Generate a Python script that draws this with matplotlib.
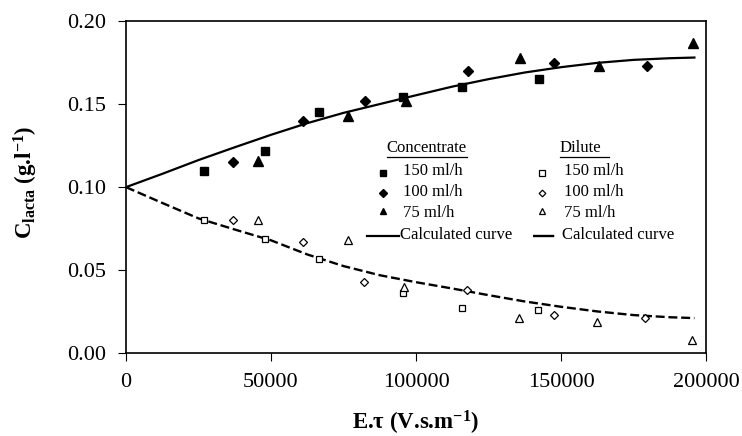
import matplotlib
matplotlib.use("Agg")
import matplotlib.pyplot as plt
from matplotlib.lines import Line2D

plt.rcParams['font.family'] = ['Liberation Serif', 'DejaVu Serif']
plt.rcParams['mathtext.fontset'] = 'custom'
plt.rcParams['mathtext.rm'] = 'Liberation Serif:bold'
plt.rcParams['mathtext.it'] = 'Liberation Serif:italic'
plt.rcParams['mathtext.bf'] = 'Liberation Serif:bold'

# ---------------- data ----------------
# Concentrate compartment
conc150_x = [27000, 48000, 66500, 95500, 116000, 142500]
conc150_y = [0.110, 0.122, 0.145, 0.154, 0.160, 0.165]
conc100_x = [37000, 61000, 82500, 118000, 147500, 179500]
conc100_y = [0.115, 0.140, 0.152, 0.170, 0.175, 0.173]
conc75_x = [45500, 76500, 96500, 136000, 163000, 195500]
conc75_y = [0.116, 0.143, 0.152, 0.178, 0.173, 0.187]

# Dilute compartment
dil150_x = [27000, 48000, 66500, 95500, 116000, 142000]
dil150_y = [0.080, 0.069, 0.057, 0.036, 0.027, 0.026]
dil100_x = [37000, 61000, 82000, 117500, 147500, 179000]
dil100_y = [0.080, 0.067, 0.043, 0.038, 0.023, 0.021]
dil75_x = [45500, 76500, 96000, 135500, 162500, 195000]
dil75_y = [0.080, 0.068, 0.040, 0.021, 0.019, 0.008]

# Calculated curves
curve_x = [0, 12500, 25000, 37500, 50000, 62500, 75000, 87500, 100000,
           112500, 125000, 137500, 150000, 162500, 175000, 187500, 196000]
conc_curve_y = [0.1000, 0.1080, 0.1163, 0.1240, 0.1315, 0.1385, 0.1447, 0.1500,
                0.1553, 0.1605, 0.1650, 0.1690, 0.1722, 0.1748, 0.1766, 0.1776, 0.1780]
dil_curve_y = [0.1000, 0.0905, 0.0812, 0.0745, 0.0680, 0.0595, 0.0525, 0.0470,
               0.0428, 0.0390, 0.0350, 0.0312, 0.0280, 0.0252, 0.0230, 0.0217, 0.0212]

x_ticks = [0, 50000, 100000, 150000, 200000]
y_ticks = [0.00, 0.05, 0.10, 0.15, 0.20]
x_ticklabels = ['0', '50000', '100000', '150000', '200000']
y_ticklabels = ['0.00', '0.05', '0.10', '0.15', '0.20']

W, H = 742, 436
fig = plt.figure(figsize=(W / 100, H / 100), dpi=100)
ax = fig.add_axes([126 / W, 1 - 353.3 / H, (706 - 126) / W, (353.3 - 21) / H])

ax.plot(curve_x, conc_curve_y, color='black', lw=1.6)
ax.plot(curve_x, dil_curve_y, color='black', lw=1.7, dashes=(3.8, 1.6))

mk = dict(linestyle='none', color='black')
ax.plot(conc150_x, conc150_y, marker='s', ms=5.5, **mk)
ax.plot(conc100_x, conc100_y, marker='D', ms=4.8, **mk)
ax.plot(conc75_x, conc75_y, marker='^', ms=6.5, **mk)
ax.plot(dil150_x, dil150_y, marker='s', ms=5.0, mfc='white', mec='black', mew=0.9, **mk)
ax.plot(dil100_x, dil100_y, marker='D', ms=4.2, mfc='white', mec='black', mew=0.9, **mk)
ax.plot(dil75_x, dil75_y, marker='^', ms=5.8, mfc='white', mec='black', mew=0.9, **mk)

ax.set_xlim(0, 200000)
ax.set_ylim(0, 0.20)
ax.set_xticks(x_ticks)
ax.set_xticklabels(x_ticklabels)
ax.set_yticks(y_ticks)
ax.set_yticklabels(y_ticklabels)
ax.tick_params(direction='out', length=6, width=0.8, labelsize=16, pad=8)
for s in ax.spines.values():
    s.set_linewidth(1.2)

ax.set_ylabel(r'C$_{\mathrm{lacta}}$ (g.l$^{\mathrm{-1}}$)', fontsize=16.5, fontweight='bold')
ax.yaxis.set_label_coords(-0.148, 0.5155)
ax.set_xlabel(r'E.τ (V.s.m$^{\mathrm{-1}}$)', fontsize=16.5, fontweight='bold')
ax.xaxis.set_label_coords(0.5, -0.168)

# ---------------- custom legend ----------------
def fx(px):
    return px / W

def fy(py):
    return 1 - py / H

tf = fig.transFigure
lfs = 12
fig.text(fx(386.5), fy(151.7), 'Concentrate', fontsize=lfs, va='baseline', ha='left')
fig.add_artist(Line2D([fx(386.5), fx(466.5)], [fy(157.3)] * 2, color='black', lw=0.9, transform=tf))
fig.text(fx(560), fy(151.7), 'Dilute', fontsize=lfs, va='baseline', ha='left')
fig.add_artist(Line2D([fx(560), fx(609.3)], [fy(157.3)] * 2, color='black', lw=0.9, transform=tf))

rows = [('150 ml/h', 's', 175.0, 172.7, 4.2, 4.0),
        ('100 ml/h', 'D', 196.0, 193.3, 3.8, 3.4),
        ('75 ml/h', '^', 217.3, 210.5, 5.0, 4.6)]
for label, m, base, my, ms_f, ms_o in rows:
    fig.add_artist(Line2D([fx(382.7)], [fy(my)], marker=m, ms=ms_f, color='black',
                          linestyle='none', transform=tf))
    fig.text(fx(403.3), fy(base), label, fontsize=lfs, va='baseline', ha='left')
    fig.add_artist(Line2D([fx(541.7)], [fy(my)], marker=m, ms=ms_o, mfc='white', mec='black',
                          mew=0.9, linestyle='none', transform=tf))
    fig.text(fx(564), fy(base), label, fontsize=lfs, va='baseline', ha='left')

fig.add_artist(Line2D([fx(366.7), fx(399.3)], [fy(235.7)] * 2, color='black', lw=1.6, transform=tf))
fig.text(fx(400.5), fy(239.3), 'Calculated curve', fontsize=lfs, va='baseline', ha='left')
fig.add_artist(Line2D([fx(533.3), fx(561.7)], [fy(236)] * 2, color='black', lw=1.7,
                      dashes=(9, 3.5), transform=tf))
fig.text(fx(562), fy(239.3), 'Calculated curve', fontsize=lfs, va='baseline', ha='left')

fig.savefig('out.png', dpi=100)
